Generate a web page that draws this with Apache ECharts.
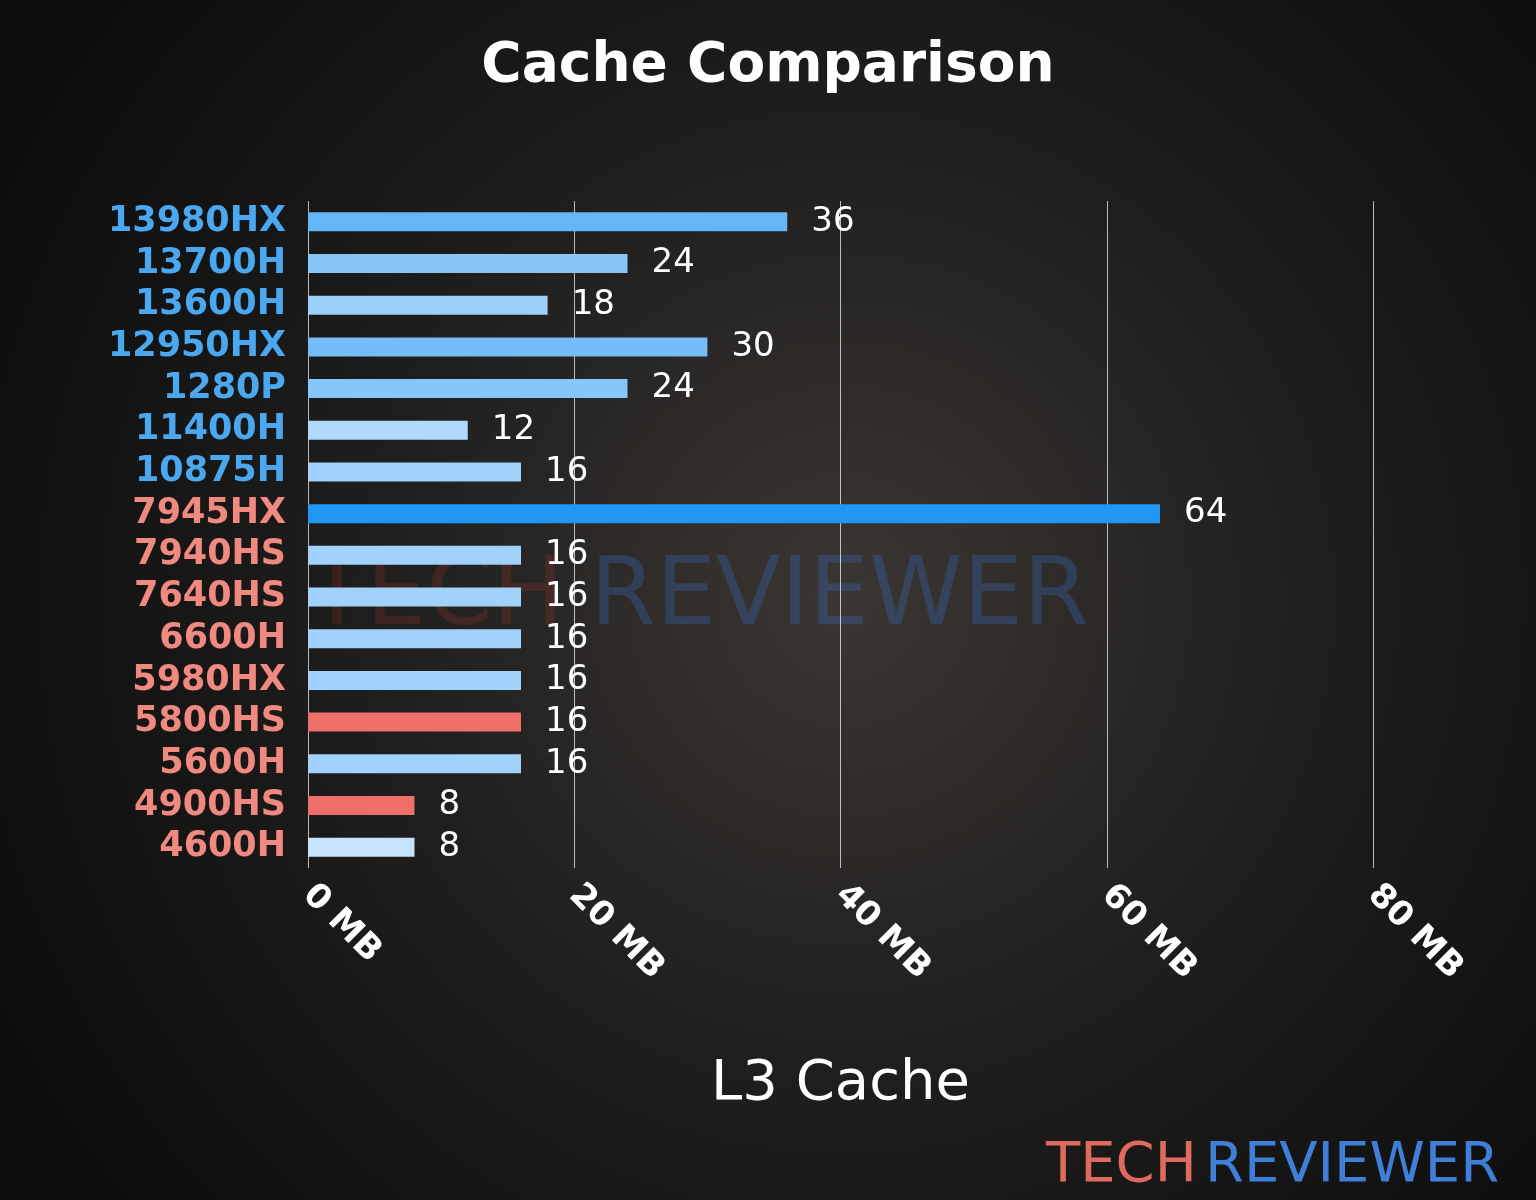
<!DOCTYPE html>
<html><head><meta charset="utf-8">
<script src="https://cdn.jsdelivr.net/npm/echarts@6/dist/echarts.min.js"></script>
<style>html,body{margin:0;padding:0;background:#111}#c{width:1536px;height:1200px}</style>
</head><body><div id="c"></div>
<script>
const categories = ['13980HX','13700H','13600H','12950HX','1280P','11400H','10875H','7945HX','7940HS','7640HS','6600H','5980HX','5800HS','5600H','4900HS','4600H'];
const cacheMB = [36,24,18,30,24,12,16,64,16,16,16,16,16,16,8,8];
const brand = ['intel','intel','intel','intel','intel','intel','intel','amd','amd','amd','amd','amd','amd','amd','amd','amd'];
const highlighted = ['5800HS','4900HS'];

function blueFor(v){
  const t = Math.min(1,(v-8)/56);
  const a=[200,228,253], b=[33,150,243];
  const c=a.map((x,i)=>Math.round(x+(b[i]-x)*Math.pow(t,0.75)));
  return 'rgb('+c.join(',')+')';
}
const chart = echarts.init(document.getElementById('c'));
chart.setOption({
  backgroundColor:{type:'radial',x:0.55,y:0.5,r:0.8,colorStops:[{offset:0,color:'#3a3633'},{offset:0.5,color:'#1f1e1d'},{offset:1,color:'#0c0c0c'}]},
  title:{text:'Cache Comparison',left:'center',top:34,textStyle:{color:'#fff',fontSize:55,fontWeight:'bold',fontFamily:'DejaVu Sans'}},
  graphic:[
    {type:'text',left:308,top:552,style:{text:'TECH',fill:'rgba(200,60,50,0.18)',font:'95px "DejaVu Sans"'}},
    {type:'text',left:590,top:552,style:{text:'REVIEWER',fill:'rgba(60,110,200,0.3)',font:'95px "DejaVu Sans"'}},
    {type:'text',left:1046,top:1138,style:{text:'TECH',fill:'#e06a60',font:'56px "DejaVu Sans"'}},
    {type:'text',left:1205,top:1138,style:{text:'REVIEWER',fill:'#3f7fd8',font:'56px "DejaVu Sans"'}}
  ],
  grid:{left:308,right:163,top:201,height:667,containLabel:false},
  xAxis:{type:'value',min:0,max:80,interval:20,
    name:'L3 Cache',nameLocation:'middle',nameGap:188,nameTextStyle:{color:'#fff',fontSize:56,fontFamily:'DejaVu Sans'},
    axisLine:{show:false},axisTick:{show:false},
    splitLine:{lineStyle:{color:'rgba(255,255,255,0.7)',width:1}},
    axisLabel:{rotate:-45,color:'#fff',fontSize:34,fontWeight:'bold',fontFamily:'DejaVu Sans',margin:22,formatter:v=>v+' MB',align:'left'}},
  yAxis:{type:'category',inverse:true,data:categories,
    axisLine:{show:false},axisTick:{show:false},
    axisLabel:{interval:0,hideOverlap:false,fontSize:35,lineHeight:38,fontWeight:'bold',fontFamily:'DejaVu Sans',margin:22,
      formatter:(v,i)=>'{'+brand[i]+'|'+v+'}',
      rich:{intel:{color:'#4aa8f0',fontSize:35,lineHeight:38,fontWeight:'bold',fontFamily:'DejaVu Sans'},amd:{color:'#f08a80',fontSize:35,lineHeight:38,fontWeight:'bold',fontFamily:'DejaVu Sans'}}}},
  series:[{type:'bar',barWidth:19,
    data:cacheMB.map((v,i)=>({value:v,itemStyle:{color:highlighted.includes(categories[i])?'#ef6f6a':blueFor(v)}})),
    label:{show:true,position:'right',distance:24,color:'#fff',fontSize:34,fontFamily:'DejaVu Sans'}}]
});
</script></body></html>
